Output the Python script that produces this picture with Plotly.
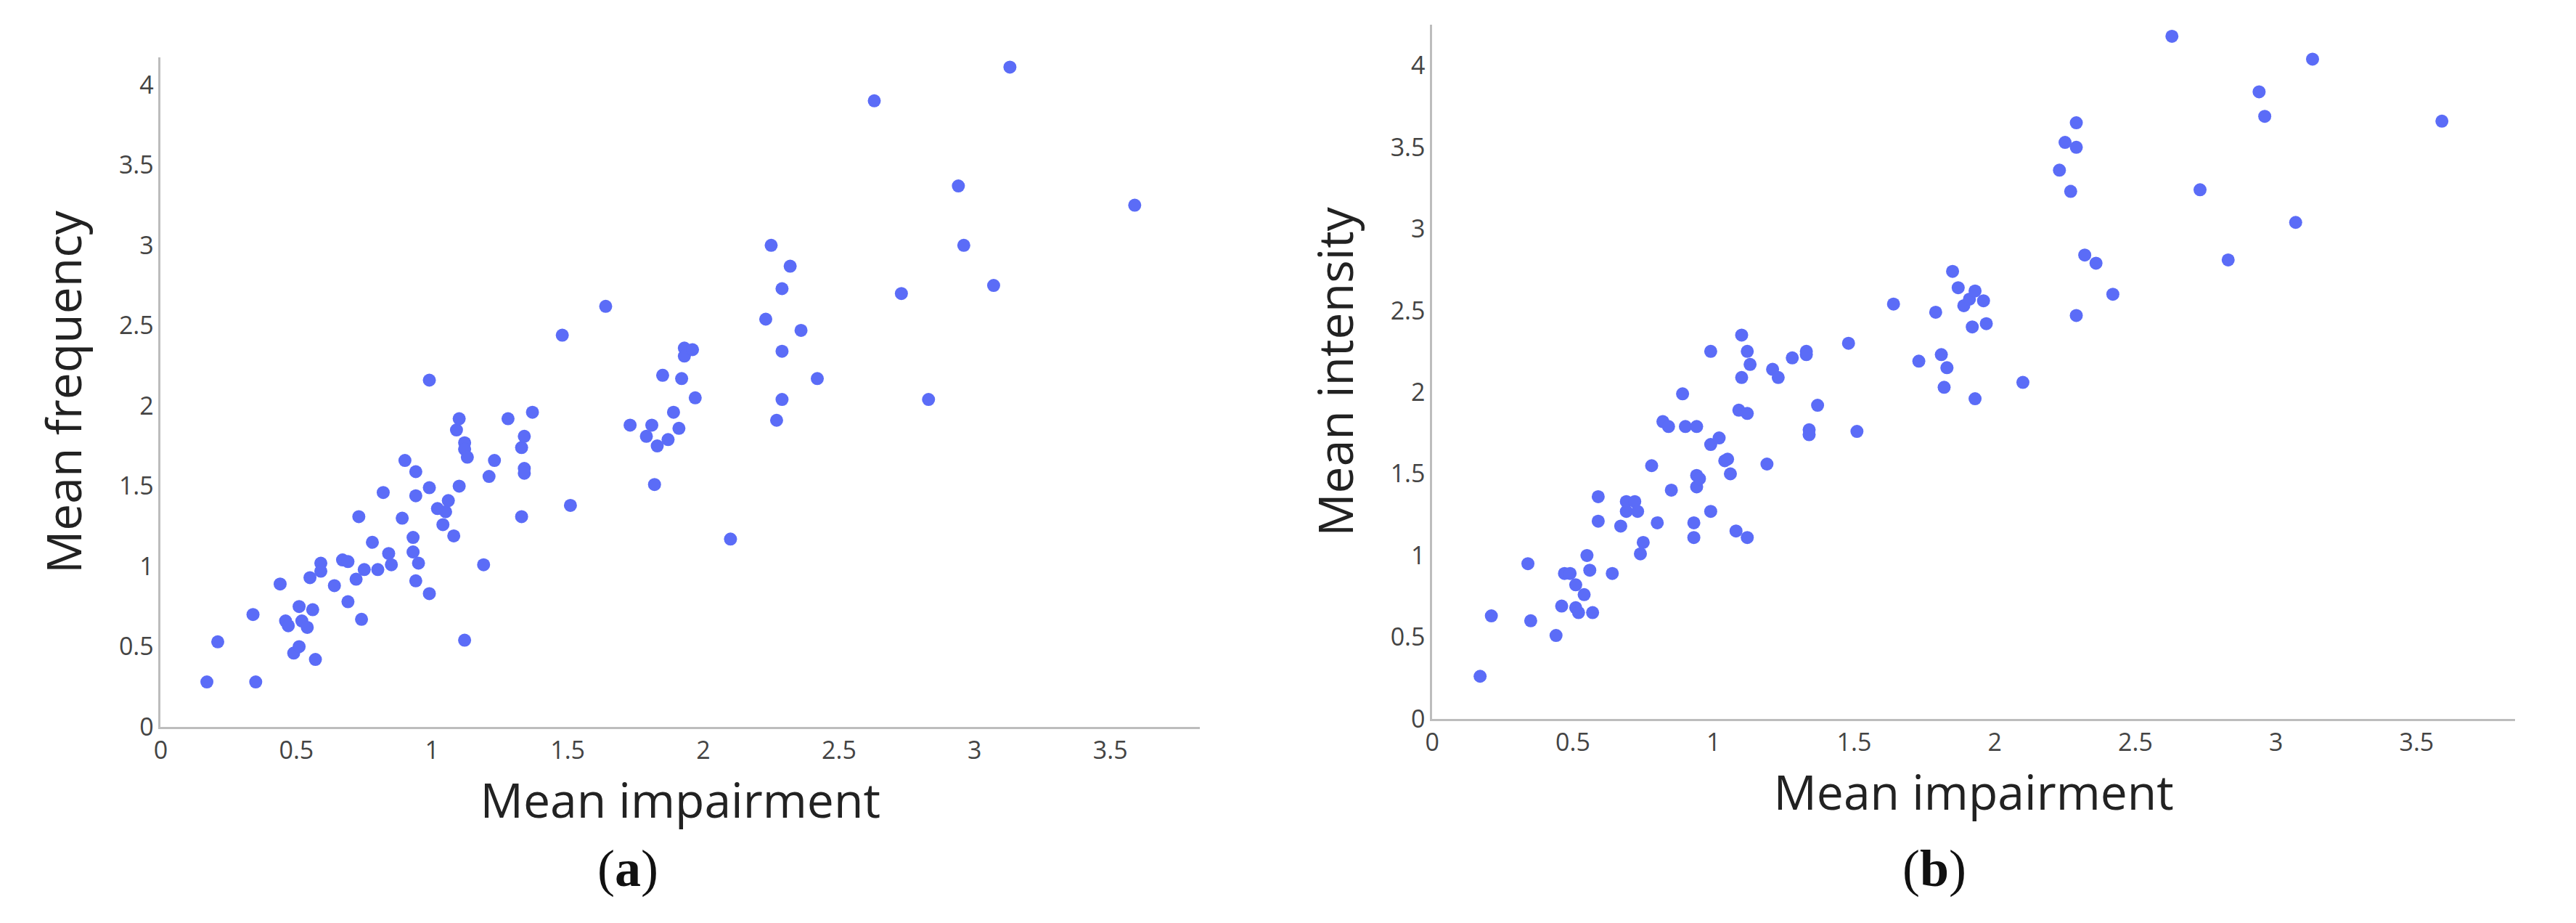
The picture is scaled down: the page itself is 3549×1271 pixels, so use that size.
import plotly.graph_objects as go

ax = [0.17,0.21,0.34,0.35,0.44,0.46,0.47,0.51,0.52,0.54,0.49,0.51,0.56,0.57,0.55,0.59,0.59,0.64,0.67,0.69,0.69,0.72,0.73,0.74,0.75,0.78,0.80,0.82,0.84,0.85,0.89,0.90,0.93,0.93,0.94,0.94,0.95,0.94,0.99,0.99,0.99,1.02,1.04,1.05,1.06,1.08,1.09,1.10,1.10,1.12,1.12,1.13,1.12,1.19,1.21,1.23,1.28,1.33,1.34,1.34,1.34,1.33,1.37,1.48,1.51,1.64,1.73,1.79,1.81,1.83,1.82,1.85,1.87,1.89,1.91,1.92,1.93,1.93,1.96,1.97,2.10,2.23,2.25,2.27,2.29,2.29,2.29,2.32,2.36,2.42,2.63,2.73,2.83,2.94,2.96,3.07,3.13,3.59]
ay = [0.28,0.53,0.70,0.28,0.89,0.66,0.63,0.75,0.66,0.62,0.46,0.50,0.73,0.42,0.93,1.02,0.97,0.88,1.04,1.03,0.78,0.92,1.31,0.67,0.98,1.15,0.98,1.46,1.08,1.01,1.30,1.66,1.18,1.09,1.59,1.44,1.02,0.91,2.16,1.49,0.83,1.36,1.26,1.34,1.41,1.19,1.85,1.92,1.50,1.77,1.73,1.68,0.54,1.01,1.56,1.66,1.92,1.74,1.81,1.61,1.58,1.31,1.96,2.44,1.38,2.62,1.88,1.81,1.88,1.75,1.51,2.19,1.79,1.96,1.86,2.17,2.36,2.31,2.35,2.05,1.17,2.54,3.00,1.91,2.73,2.34,2.04,2.87,2.47,2.17,3.90,2.70,2.04,3.37,3.00,2.75,4.11,3.25]

bx = [0.17,0.21,0.34,0.35,0.44,0.46,0.47,0.49,0.51,0.51,0.52,0.54,0.55,0.56,0.57,0.59,0.59,0.64,0.67,0.69,0.69,0.72,0.73,0.74,0.75,0.78,0.80,0.82,0.84,0.85,0.89,0.90,0.93,0.93,0.94,0.94,0.94,0.95,0.99,0.99,0.99,1.02,1.04,1.05,1.06,1.08,1.09,1.10,1.10,1.12,1.12,1.12,1.13,1.19,1.21,1.23,1.28,1.33,1.33,1.34,1.34,1.37,1.48,1.51,1.64,1.73,1.79,1.81,1.82,1.83,1.85,1.87,1.89,1.91,1.92,1.93,1.93,1.96,1.97,2.10,2.23,2.25,2.27,2.29,2.29,2.29,2.32,2.36,2.42,2.63,2.73,2.83,2.94,2.96,3.07,3.13,3.59]
by = [0.26,0.63,0.95,0.60,0.51,0.69,0.89,0.89,0.82,0.68,0.65,0.76,1.00,0.91,0.65,1.36,1.21,0.89,1.18,1.33,1.27,1.33,1.27,1.01,1.08,1.55,1.20,1.82,1.79,1.40,1.99,1.79,1.20,1.11,1.79,1.49,1.42,1.47,2.25,1.68,1.27,1.72,1.58,1.59,1.50,1.15,1.89,2.35,2.09,2.25,1.87,1.11,2.17,1.56,2.14,2.09,2.21,2.25,2.23,1.77,1.74,1.92,2.30,1.76,2.54,2.19,2.49,2.23,2.03,2.15,2.74,2.64,2.53,2.57,2.40,2.62,1.96,2.56,2.42,2.06,3.36,3.53,3.23,3.65,3.50,2.47,2.84,2.79,2.60,4.18,3.24,2.81,3.84,3.69,3.04,4.04,3.66]

xticks = [0, 0.5, 1, 1.5, 2, 2.5, 3, 3.5]
yticks = [0, 0.5, 1, 1.5, 2, 2.5, 3, 3.5, 4]
tick_text_x = ["0", "0.5", "1", "1.5", "2", "2.5", "3", "3.5"]
tick_text_y = ["0", "0.5", "1", "1.5", "2", "2.5", "3", "3.5", "4"]

col = "#5b6cf7"
fig = go.Figure()
fig.add_trace(go.Scatter(x=ax, y=ay, mode="markers", marker=dict(color=col, size=18), xaxis="x", yaxis="y"))
fig.add_trace(go.Scatter(x=bx, y=by, mode="markers", marker=dict(color=col, size=18), xaxis="x2", yaxis="y2"))

tf = dict(family="Open Sans", size=34, color="#444")
tlf = dict(family="Open Sans", size=66, color="#222")
common = dict(showgrid=False, zeroline=False, showline=True, linecolor="#bdbdbd", linewidth=3,
              ticks="", tickfont=tf)
fig.update_layout(
    width=3549, height=1271, margin=dict(l=0, r=0, t=0, b=0),
    paper_bgcolor="white", plot_bgcolor="white", showlegend=False,
    xaxis=dict(domain=[0.0575, 0.462], range=[0, 3.83], tickvals=xticks, ticktext=tick_text_x,
               title=dict(text="Mean impairment", font=tlf, standoff=25), anchor="y", **common),
    yaxis=dict(domain=[0.205, 0.943], range=[0, 4.17], tickvals=yticks, ticktext=tick_text_y,
               title=dict(text="Mean frequency", font=tlf, standoff=30), anchor="x", **common),
    xaxis2=dict(domain=[0.5525, 0.974], range=[0, 3.85], tickvals=xticks, ticktext=tick_text_x,
                title=dict(text="Mean impairment", font=tlf, standoff=25), anchor="y2", **common),
    yaxis2=dict(domain=[0.214, 0.979], range=[0, 4.25], tickvals=yticks, ticktext=tick_text_y,
                title=dict(text="Mean intensity", font=tlf, standoff=30), anchor="x2", **common),
)
lab = dict(family="Liberation Serif", size=72, color="#111")
fig.add_annotation(text="(<b>a</b>)", x=0.227, y=0.015, xref="paper", yref="paper", yanchor="bottom", showarrow=False, font=lab)
fig.add_annotation(text="(<b>b</b>)", x=0.761, y=0.015, xref="paper", yref="paper", yanchor="bottom", showarrow=False, font=lab)
fig.write_html("out.html")
